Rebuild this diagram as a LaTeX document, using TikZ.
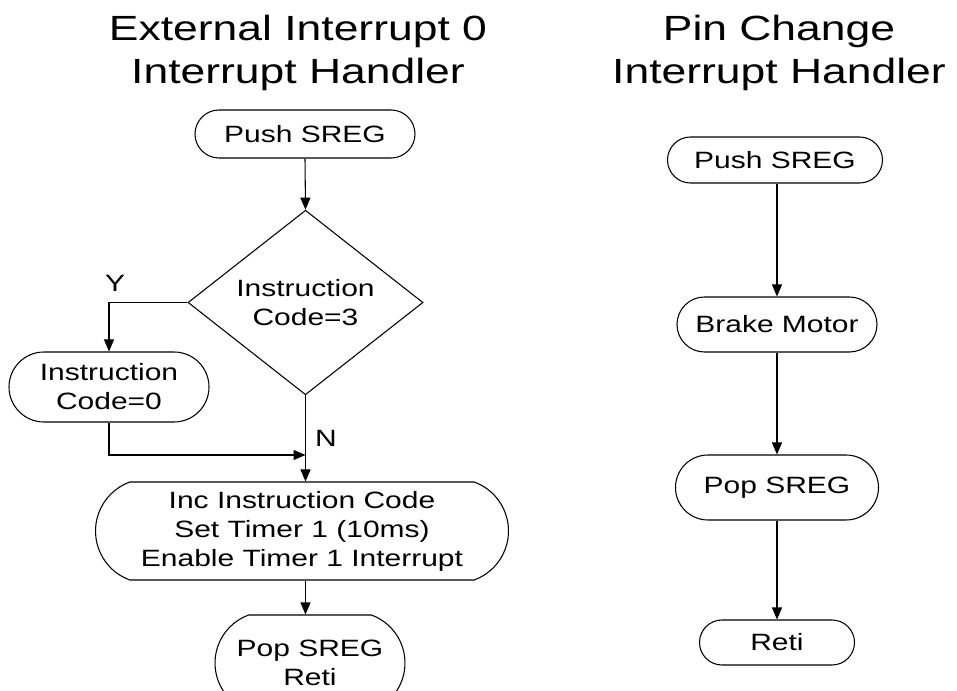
\documentclass[tikz,border=0pt]{standalone}
\usepackage{fontspec}
\setmainfont[FakeStretch=1.27]{Liberation Sans}
\usetikzlibrary{shapes.misc,shapes.geometric,arrows.meta}
\newcommand\myNodeFont{\fontsize{17.7}{21.75}\selectfont}
\newcommand\myTitleFont{\fontsize{26.25}{32.25}\selectfont}
\tikzset{
  box/.style={draw, rounded rectangle, inner sep=0pt, line width=0.8pt, font=\myNodeFont, align=center},
  dec/.style={draw, diamond, inner sep=0pt, line width=0.8pt, font=\myNodeFont, align=center},
  arr/.style={-{Triangle[length=9pt,width=7.5pt]}, line width=0.8pt},
  lbl/.style={font=\myNodeFont, inner sep=0pt},
  ttl/.style={font=\myTitleFont, align=center, inner sep=0pt}
}
\begin{document}
\begin{tikzpicture}[x=0.75pt,y=-0.75pt]
\useasboundingbox (0,0) rectangle (957,691);
% titles
\node[ttl] (t1) at (298,52.5) {External Interrupt 0\\Interrupt Handler};
\node[ttl] (t2) at (779,52.5) {Pin Change\\Interrupt Handler};
% left flow
\node[box, minimum width=165pt, minimum height=36pt] (pushL) at (305,134) {Push SREG};
\node[dec, minimum width=176.25pt, minimum height=135.75pt] (dia) at (305.5,302.5) {Instruction\\Code=3};
\node[box, minimum width=150pt, minimum height=52.5pt] (ic0) at (109,387) {Instruction\\Code=0};
\node[box, rounded rectangle arc length=140, minimum width=309.75pt, minimum height=73.5pt] (inc) at (302,531) {Inc Instruction Code\\Set Timer 1 (10ms)\\Enable Timer 1 Interrupt};
\node[box, rounded rectangle arc length=140, minimum width=142.5pt, minimum height=72pt] (popL) at (310,663) {Pop SREG\\Reti};
\coordinate (mrg) at (305.5,455);
\draw[arr] (pushL.south) -- (dia.north);
\draw[arr] (dia.west) -| (ic0.north);
\draw[arr] (dia.south) -- (dia.south |- inc.north);
\draw[arr] (ic0.south) |- (mrg);
\draw[arr] (dia.south |- inc.south) -- (dia.south |- popL.north);
\node[lbl] (ylab) at (115,283) {Y};
\node[lbl] (nlab) at (326,438) {N};
% right flow
\node[box, minimum width=161.25pt, minimum height=34.5pt] (pushR) at (775,160) {Push SREG};
\node[box, minimum width=150pt, minimum height=41.25pt] (brake) at (777,324.5) {Brake Motor};
\node[box, minimum width=152.25pt, minimum height=48.75pt] (popR) at (777,487.5) {Pop SREG};
\node[box, minimum width=116.25pt, minimum height=33.75pt] (reti) at (777,642.5) {Reti};
\draw[arr] (brake.north |- pushR.south) -- (brake.north);
\draw[arr] (brake.south) -- (popR.north);
\draw[arr] (popR.south) -- (reti.north);
\end{tikzpicture}
\end{document}
